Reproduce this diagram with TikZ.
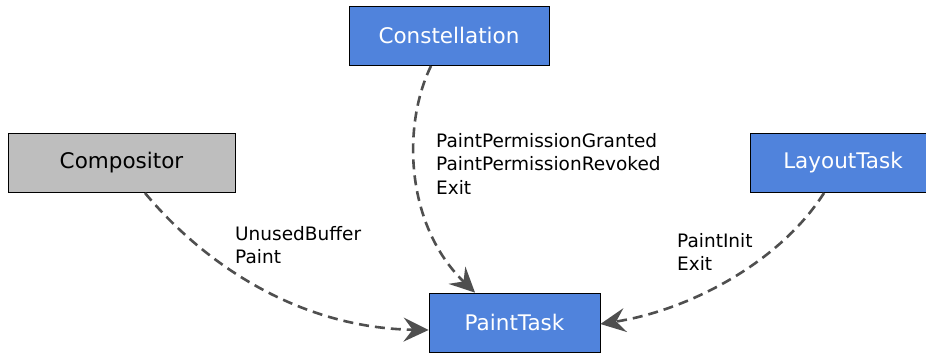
\documentclass[tikz,border=0pt]{standalone}
\usepackage{fontspec}
\setmainfont{DejaVu Sans}
\usetikzlibrary{arrows.meta}
\definecolor{taskblue}{HTML}{5083DC}
\definecolor{procgray}{HTML}{BEBEBE}
\definecolor{edgegray}{HTML}{4F4F4F}
\tikzset{
  box/.style={draw=black, line width=0.8pt, minimum height=59pt, inner sep=0pt,
    font=\fontsize{21.5}{24}\selectfont},
  bluebox/.style={box, fill=taskblue, text=white},
  graybox/.style={box, fill=procgray, text=black},
  msg/.style={draw=edgegray, line width=2.6pt, dash pattern=on 10pt off 6pt,
    -{Stealth[length=25pt, width=24pt, inset=9pt]}},
  lbl/.style={align=left, anchor=north west, inner sep=0pt,
    font=\fontsize{18.5}{23.5}\selectfont}
}
\begin{document}
\begin{tikzpicture}[x=1pt, y=-1pt]
\useasboundingbox (0,0) rectangle (926,354);
\clip (0,0) rectangle (926,354);
\node[bluebox, minimum width=200pt] (con) at (449,35.5) {Constellation};
\node[graybox, minimum width=227pt] (comp) at (121.5,162.5) {Compositor};
\node[bluebox, minimum width=186pt] (lay) at (843,162.5) {LayoutTask};
\node[bluebox, minimum width=171pt] (paint) at (514.5,322.5) {PaintTask};

\coordinate (conout) at (431,66);
\coordinate (compout) at (145,193);
\coordinate (layout) at (824,193);

\draw[msg] (conout) .. controls (402,125) and (405,225) .. (paint.north -| 475,0);
\draw[msg] (compout) .. controls (205,265) and (300,328) .. (paint.west |- 0,330);
\draw[msg] (layout) .. controls (780,262) and (690,310) .. (paint.east |- 0,324);

\node[lbl] (l1) at (436,133) {PaintPermissionGranted\\PaintPermissionRevoked\\Exit};
\node[lbl] (l2) at (235,226) {UnusedBuffer\\Paint};
\node[lbl] (l3) at (677,233) {PaintInit\\Exit};
\end{tikzpicture}
\end{document}
